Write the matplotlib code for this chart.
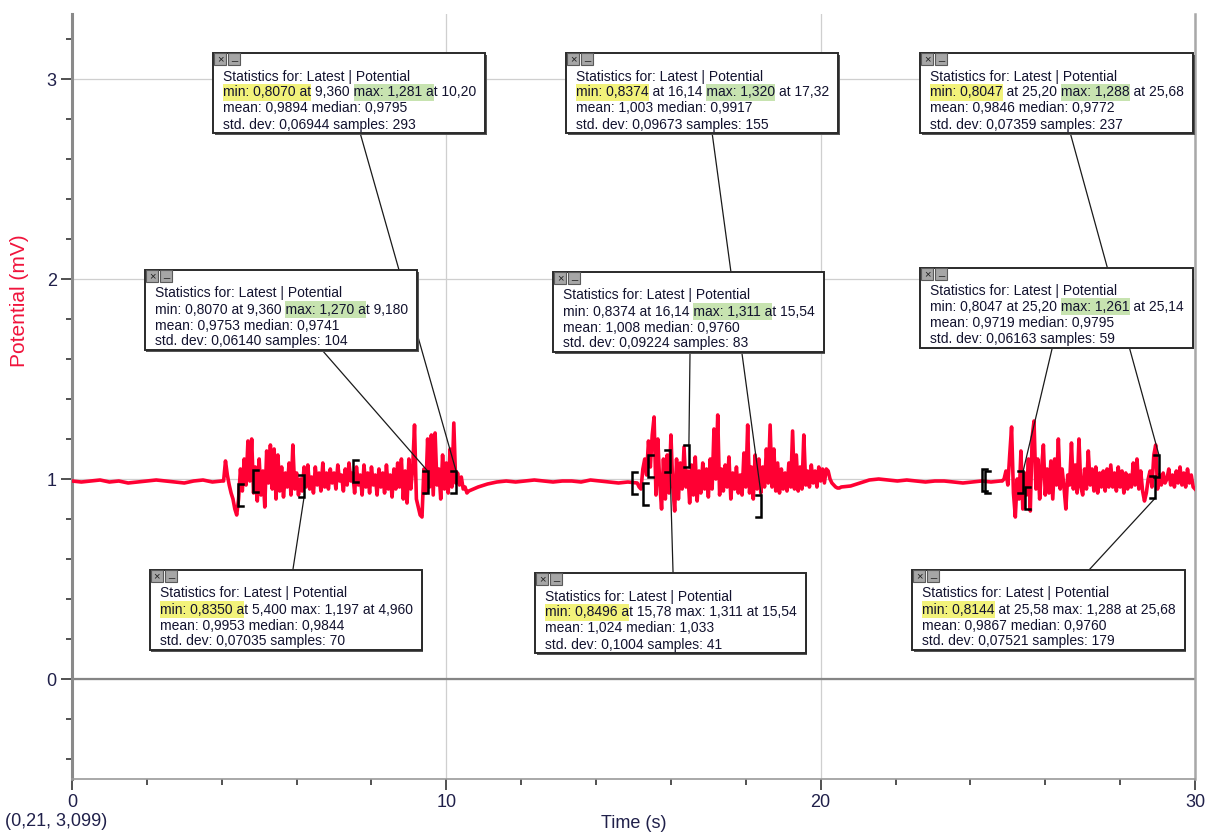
import numpy as np
import matplotlib
matplotlib.use('Agg')
import matplotlib.pyplot as plt
from matplotlib.patches import Rectangle
from matplotlib.ticker import MultipleLocator
from matplotlib.transforms import IdentityTransform

plt.rcParams['font.family'] = ['Liberation Sans', 'DejaVu Sans']

# ---- signal (Potential, mV), segment by segment ----
quiet1_span = (0.0, 4.0)
quiet1 = [0.99, 0.985, 0.99, 0.995, 0.985, 0.99, 0.98, 0.985, 0.99, 0.995,
          0.99, 0.985, 0.98, 0.99, 0.995, 0.985, 0.99]

burst1_span = (4.05, 10.60)
burst1 = [0.99, 1.09, 1.02, 0.97, 0.93, 0.90, 0.85, 0.82, 0.90, 1.05, 0.94, 1.10,
          0.97, 1.19, 0.99, 1.20, 0.93, 1.06, 0.89, 1.10, 0.92, 1.04, 0.86, 1.14,
          0.98, 1.17, 0.95, 1.15, 0.90, 1.12, 0.94, 1.06, 0.91, 1.03, 0.96, 1.08,
          0.92, 1.17, 0.95, 1.03, 0.92, 1.00, 0.94, 1.06, 0.96, 1.07, 0.95, 1.01,
          0.93, 1.06, 0.97, 1.03, 0.94, 1.08, 0.96, 1.03, 0.95, 1.05, 0.98, 1.03,
          0.95, 1.07, 0.99, 1.02, 0.94, 1.05, 0.97, 1.08, 0.99, 1.03, 0.93, 1.06,
          0.97, 1.02, 0.92, 1.07, 0.96, 1.03, 0.93, 1.06, 0.97, 1.02, 0.92, 1.05,
          0.96, 1.03, 0.93, 1.07, 0.95, 1.02, 0.91, 1.05, 0.95, 1.08, 0.96, 1.10,
          0.90, 1.04, 0.88, 1.10, 0.95, 1.05, 1.27, 0.90, 0.86, 0.82, 0.81, 1.05,
          0.93, 1.20, 0.96, 1.22, 0.92, 1.23, 0.97, 1.05, 0.90, 1.12, 0.95, 1.08,
          0.93, 1.15, 0.96, 1.28, 0.98, 1.03, 0.97, 1.01, 0.95, 0.96, 0.93, 0.94]

quiet2_span = (10.85, 14.85)
quiet2 = [0.96, 0.975, 0.985, 0.99, 0.985, 0.99, 0.995, 0.99, 0.985, 0.99,
          0.99, 0.985, 0.995, 0.99, 0.985, 0.98, 0.985]

burst2_span = (15.10, 20.55)
burst2 = [0.98, 0.96, 0.95, 1.05, 1.10, 1.02, 1.19, 1.06, 1.22, 1.31, 0.92, 1.20,
          0.98, 0.85, 1.10, 0.90, 1.12, 0.93, 1.22, 0.96, 0.84, 1.10, 0.90, 1.08,
          0.95, 1.16, 0.96, 1.04, 0.88, 1.07, 0.92, 1.11, 0.89, 1.04, 0.93, 1.08,
          0.95, 1.05, 0.91, 1.10, 0.95, 1.25, 1.00, 1.32, 0.92, 1.05, 0.94, 1.07,
          0.96, 1.11, 0.90, 1.03, 0.95, 1.06, 0.93, 1.02, 0.92, 1.13, 0.96, 1.27,
          0.93, 1.06, 0.90, 1.12, 0.95, 1.10, 0.93, 1.06, 0.96, 1.15, 0.98, 1.27,
          0.96, 1.15, 0.94, 1.08, 0.93, 1.05, 0.95, 1.03, 0.94, 1.08, 0.96, 1.24,
          0.95, 1.12, 0.94, 1.06, 0.95, 1.22, 0.97, 1.04, 0.96, 1.07, 0.98, 1.04,
          0.96, 1.06, 0.99, 1.05, 0.98, 1.05, 1.04, 1.00, 0.98, 0.97, 0.96, 0.955,
          0.955, 0.96]

quiet3_span = (20.80, 24.80)
quiet3 = [0.965, 0.98, 0.995, 1.0, 0.995, 0.99, 0.995, 0.99, 0.985, 0.99,
          0.99, 0.985, 0.98, 0.985, 0.99, 0.985, 0.99]

burst3_span = (24.85, 30.0)
burst3 = [0.99, 1.00, 1.04, 0.97, 1.12, 1.26, 0.93, 0.81, 1.00, 0.90, 1.14, 0.85,
          1.03, 0.92, 1.10, 0.84, 1.21, 1.29, 0.95, 1.10, 0.90, 1.05, 1.17, 0.92,
          1.05, 0.93, 1.09, 0.90, 1.10, 0.97, 1.20, 0.95, 1.05, 0.96, 0.85, 1.02,
          0.97, 1.18, 0.95, 1.07, 0.93, 1.20, 0.96, 0.92, 1.05, 0.95, 1.14, 0.97,
          1.05, 0.94, 1.06, 0.93, 1.03, 0.96, 1.04, 0.94, 1.05, 0.96, 1.07, 0.96,
          1.03, 0.94, 1.06, 0.96, 1.04, 0.93, 1.03, 0.95, 1.02, 0.96, 1.08, 0.97,
          1.10, 0.95, 1.04, 0.94, 0.89, 0.93, 1.00, 1.04, 0.96, 1.12, 1.17, 0.95,
          1.02, 0.97, 1.03, 0.98, 1.00, 1.05, 0.97, 1.02, 0.96, 1.04, 0.98, 1.06,
          0.97, 1.03, 0.96, 1.05, 0.98, 1.02, 0.96, 0.95]

segments = [(quiet1_span, quiet1), (burst1_span, burst1), (quiet2_span, quiet2),
            (burst2_span, burst2), (quiet3_span, quiet3), (burst3_span, burst3)]
time = np.concatenate([np.linspace(s[0], s[1], len(v)) for s, v in segments])
potential = np.concatenate([v for s, v in segments])

# ---- statistics ranges: start, end (s) and the level of each bracket ----
box_names = ['A', 'B', 'C', 'D', 'E', 'F', 'G', 'H', 'I']
range_start = [4.84, 14.96, 24.31, 7.51, 15.26, 24.39, 4.43, 15.39, 25.46]
range_end = [10.26, 18.41, 29.04, 9.51, 16.48, 25.41, 6.20, 15.98, 28.93]
start_level = [0.99, 0.978, 0.995, 1.038, 0.925, 0.985, 0.918, 1.065, 0.905]
end_level = [0.985, 0.865, 1.063, 0.983, 1.113, 0.985, 0.965, 1.088, 0.958]

box_line2 = ['min: 0,8070 at 9,360 max: 1,281 at 10,20',
             'min: 0,8374 at 16,14 max: 1,320 at 17,32',
             'min: 0,8047 at 25,20 max: 1,288 at 25,68',
             'min: 0,8070 at 9,360 max: 1,270 at 9,180',
             'min: 0,8374 at 16,14 max: 1,311 at 15,54',
             'min: 0,8047 at 25,20 max: 1,261 at 25,14',
             'min: 0,8350 at 5,400 max: 1,197 at 4,960',
             'min: 0,8496 at 15,78 max: 1,311 at 15,54',
             'min: 0,8144 at 25,58 max: 1,288 at 25,68']
box_line3 = ['mean: 0,9894 median: 0,9795', 'mean: 1,003 median: 0,9917',
             'mean: 0,9846 median: 0,9772', 'mean: 0,9753 median: 0,9741',
             'mean: 1,008 median: 0,9760', 'mean: 0,9719 median: 0,9795',
             'mean: 0,9953 median: 0,9844', 'mean: 1,024 median: 1,033',
             'mean: 0,9867 median: 0,9760']
box_line4 = ['std. dev: 0,06944 samples: 293', 'std. dev: 0,09673 samples: 155',
             'std. dev: 0,07359 samples: 237', 'std. dev: 0,06140 samples: 104',
             'std. dev: 0,09224 samples: 83', 'std. dev: 0,06163 samples: 59',
             'std. dev: 0,07035 samples: 70', 'std. dev: 0,1004 samples: 41',
             'std. dev: 0,07521 samples: 179']
min_highlight = ['min: 0,8070 at', 'min: 0,8374', 'min: 0,8047', None, None, None,
                 'min: 0,8350 a', 'min: 0,8496 a', 'min: 0,8144']
max_highlight = ['max: 1,281 a', 'max: 1,320', 'max: 1,288', 'max: 1,270 a',
                 'max: 1,311 a', 'max: 1,261', None, None, None]

# ---- layout of the floating boxes (top-left corner in data units) ----
box_t = [3.77, 13.20, 22.66, 1.95, 12.85, 22.66, 2.08, 12.37, 22.44]
box_v = [3.13, 3.13, 3.13, 2.045, 2.035, 2.055, 0.545, 0.53, 0.545]
box_below = [False, False, False, False, False, False, True, True, True]
lead_dx = [147, 146, 150, 177, 137, 132, 143, 138, 177]

W, H = 1208, 834
fig = plt.figure(figsize=(W / 100, H / 100), dpi=100)
ax = fig.add_axes([72 / W, 1 - 779 / H, (1195 - 72) / W, (779 - 14) / H])
ax.set_xlim(0, 30)
ax.set_ylim(-0.5, 3.325)

ax.xaxis.set_major_locator(MultipleLocator(10))
ax.xaxis.set_minor_locator(MultipleLocator(2))
ax.yaxis.set_major_locator(MultipleLocator(1))
ax.yaxis.set_minor_locator(MultipleLocator(0.2))
ax.grid(which='major', color='#cfcfcf', lw=0.9, zorder=0)
ax.set_axisbelow(True)
ax.axhline(0, color='#858585', lw=1.6, zorder=1)

ax.spines['top'].set_visible(False)
ax.spines['left'].set_color('#8a8a8a')
ax.spines['left'].set_linewidth(2.2)
ax.spines['bottom'].set_color('#9a9a9a')
ax.spines['bottom'].set_linewidth(1.2)
ax.spines['right'].set_color('#a8a8a8')
ax.spines['right'].set_linewidth(1.8)
ax.tick_params(which='major', length=8, width=1.2, color='#333333',
               labelsize=13, labelcolor='#20204a', pad=3)
ax.tick_params(which='minor', length=4, width=1.2, color='#333333')

ax.set_xlabel('Time (s)', fontsize=13, color='#20204a', va='center')
ax.xaxis.set_label_coords(0.5, (779 - 823) / 765)
ax.set_ylabel('Potential (mV)', fontsize=15, color='#f0143c', va='center')
ax.yaxis.set_label_coords((20 - 72) / 1123, (779 - 301) / 765)
fig.text(5 / W, 1 - 822 / H, '(0,21, 3,099)', fontsize=13, color='#20204a',
         va='center', ha='left')

ax.plot(time, potential, color='#ff0033', lw=2.6, zorder=3)

# brackets marking each statistics range
bh, bw = 0.055, 0.13
for i in range(len(box_names)):
    s, e = range_start[i], range_end[i]
    ls, le = start_level[i], end_level[i]
    ax.plot([s + bw, s, s, s + bw], [ls + bh, ls + bh, ls - bh, ls - bh],
            color='black', lw=1.8, zorder=5, solid_joinstyle='miter')
    ax.plot([e - bw, e, e, e - bw], [le + bh, le + bh, le - bh, le - bh],
            color='black', lw=1.8, zorder=5, solid_joinstyle='miter')

# text measuring helpers
renderer = fig.canvas.get_renderer()
FS = 10
TXT_KW = dict(fontsize=FS, color='#12122e', transform=IdentityTransform())


def width_of(s):
    t = fig.text(0, 0, s + '.', **TXT_KW)
    w = t.get_window_extent(renderer).width
    t.remove()
    return w


dot_w = width_of('')


def text_w(s):
    return width_of(s) - dot_w


box_h = 80
yellow, green = '#f2f27a', '#c7e3b0'
inv = ax.transData.inverted()
for i in range(len(box_names)):
    lines = ['Statistics for: Latest | Potential', box_line2[i], box_line3[i], box_line4[i]]
    x0, ytop = ax.transData.transform((box_t[i], box_v[i]))
    bw_px = max(text_w(l) for l in lines) + 19

    # leader line from the box edge to the end bracket of its range
    ey = ytop if box_below[i] else ytop - box_h
    ls_t, ls_v = inv.transform((x0 + lead_dx[i], ey))
    tip = end_level[i] - bh if box_below[i] else end_level[i] + bh
    ax.plot([ls_t, range_end[i]], [ls_v, tip], color='#1a1a1a', lw=0.9,
            zorder=4, clip_on=False)

    fig.add_artist(Rectangle((x0 + 1.5, ytop - box_h - 1.5), bw_px, box_h,
                             transform=IdentityTransform(), facecolor='#555555',
                             edgecolor='none'))
    fig.add_artist(Rectangle((x0, ytop - box_h), bw_px, box_h,
                             transform=IdentityTransform(), facecolor='white',
                             edgecolor='#2a2a2a', lw=1.4))
    # window buttons
    for k, glyph in enumerate(['×', '_']):
        bx = x0 + 1 + 14 * k
        fig.add_artist(Rectangle((bx, ytop - 12), 12, 12, transform=IdentityTransform(),
                                 facecolor='#a6a6a6', edgecolor='#5a5a5a', lw=0.8))
        fig.text(bx + 6, ytop - 6 + (0 if k == 0 else 2), glyph, fontsize=8,
                 color='#202020', ha='center', va='center',
                 transform=IdentityTransform())

    tx = x0 + 10
    for j, line in enumerate(lines):
        yc = ytop - 23 - 16 * j
        if j == 1:
            for hl, col in [(min_highlight[i], yellow), (max_highlight[i], green)]:
                if hl is None:
                    continue
                k0 = line.index(hl)
                xa = tx + text_w(line[:k0])
                xb = tx + text_w(line[:k0 + len(hl)])
                fig.add_artist(Rectangle((xa, yc - 8.5), xb - xa, 17,
                                         transform=IdentityTransform(),
                                         facecolor=col, edgecolor='none'))
        fig.text(tx, yc - 4.5, line, ha='left', va='baseline', **TXT_KW)

fig.savefig('out.png', dpi=100)
